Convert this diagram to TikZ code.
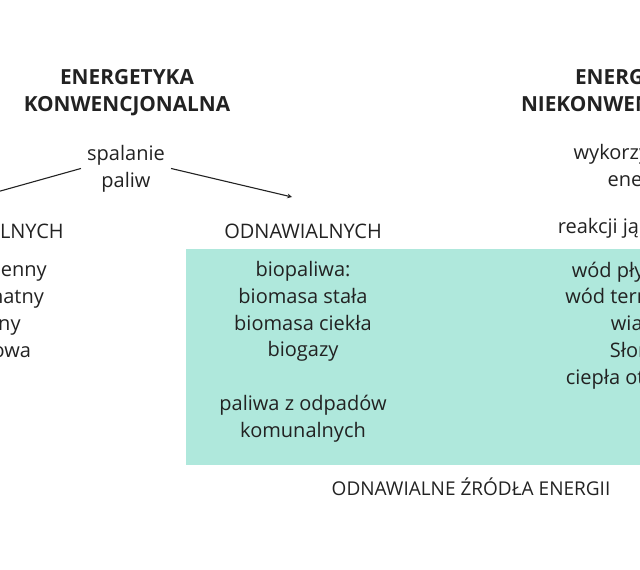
\documentclass[tikz,border=0pt]{standalone}
\usepackage{fontspec}
\setmainfont{Open Sans}
\usetikzlibrary{arrows}
\definecolor{mieta}{HTML}{AFE8DC}
\definecolor{tusz}{HTML}{222222}

\begin{document}
\begin{tikzpicture}[x=1pt,y=-1pt,>=stealth,
  txt/.style={anchor=base,align=center,inner sep=4pt,text=tusz,
    font=\fontsize{20}{26.7}\selectfont},
  head/.style={txt,font=\fontsize{20.8}{26.7}\selectfont\bfseries}]
\useasboundingbox (0,0) rectangle (640,570);
\clip (0,0) rectangle (640,570);
% pole OZE
\fill[mieta] (186,249) rectangle (760,465);
% naglowki (base = ostatnia linia)
\node[head] (konw) at (127,111) {ENERGETYKA\\KONWENCJONALNA};
\node[head] (niekonw) at (642,111) {ENERGETYKA\\NIEKONWENCJONALNA};
\node[txt,inner sep=6pt] (spal) at (126,187) {spalanie\\paliw};
\node[txt] (wyk) at (639.5,186) {wykorzystanie\\energii};
% kolumny
\node[txt] (nieodn) at (-31,238) {NIEODNAWIALNYCH};
\node[txt] (odn) at (303,238) {ODNAWIALNYCH};
\node[txt] (reak) at (638,233) {reakcji jądrowych};
\node[txt] (kopal) at (-31,357) {węgiel kamienny\\węgiel brunatny\\gaz ziemny\\ropa naftowa};
\node[txt] (bio) at (303,437) {biopaliwa:\\biomasa stała\\biomasa ciekła\\biogazy\\[26.7pt]paliwa z odpadów\\komunalnych};
\node[txt] (zrodla) at (640.5,384) {wód płynących\\wód termalnych\\wiatru\\Słońca\\ciepła otoczenia};
\node[txt,font=\fontsize{19}{26.7}\selectfont] (oze) at (471,495) {ODNAWIALNE ŹRÓDŁA ENERGII};
% strzalki
\coordinate (k1) at (-21,197);
\coordinate (k2) at (292,197);
\draw[->,tusz,line width=1.1pt] (spal.west) -- (k1);
\draw[->,tusz,line width=1.1pt] (spal.east) -- (k2);
\end{tikzpicture}
\end{document}
